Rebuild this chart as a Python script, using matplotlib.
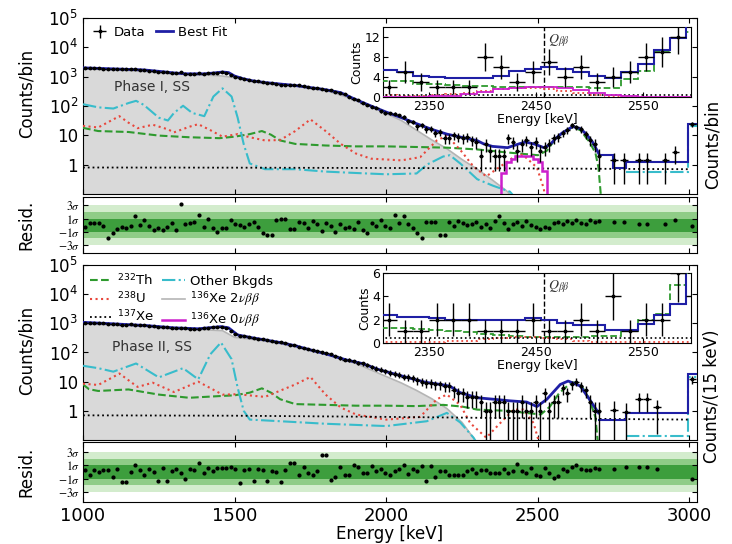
import numpy as np
import matplotlib
matplotlib.use("Agg")
import matplotlib.pyplot as plt

plt.rcParams['font.family'] = ['DejaVu Sans']
plt.rcParams['mathtext.fontset'] = 'stix'
plt.rcParams['xtick.direction'] = 'in'
plt.rcParams['ytick.direction'] = 'in'

# 15 keV bins starting at 1000 keV
bin_centers = 1007.5 + 15 * np.arange(114)
inset_edges = 2305 + 15 * np.arange(21)

C_FIT = '#1f1fa5'
C_TH = '#2e9a2e'
C_U = '#e8473c'
C_OTH = '#38bccb'
C_2NU = '#b5b5b5'
C_FILL = '#d9d9d9'
C_0NU = '#cc1fcc'
BAND_3, BAND_2, BAND_1 = '#d3eccd', '#8fcc87', '#3d9e3d'

# ---------------- Phase I ----------------
p1_data = [2000, 1980, 1960, 1950, 1880, 1800, 1820, 1820, 1800, 1760,
           1760, 1800, 1720, 1720, 1620, 1550, 1500, 1430, 1390, 1370,
           1310, 1400, 1260, 1260, 1270, 1310, 1240, 1320, 1340, 1380,
           1430, 1330, 1170, 990, 900, 830, 750, 720, 700, 640,
           630, 600, 580, 540, 520, 520, 520, 500, 480, 430,
           410, 410, 390, 350, 340, 305, 270, 255, 210, 170,
           155, 128, 108, 95, 88, 66, 58, 57, 55, 48,
           43, 30, 29, 20, 22, 16, 17, 12, 13, 8,
           8, 10, 9, 8, 9, 7, 6, 2, 5, 3,
           2, 2, 2, 8, 6, 3, 5, 7, 4, 6,
           3, 4, 5, 8, 9, 12, 15, 22, 19, 16,
           11, 7, 5, 2]
p1_hi_E = [2750, 2783, 2833, 2860, 2921, 2954, 3010]
p1_hi = [1.4, 1.4, 1.4, 1.4, 1.4, 2.7, 24]

p1_fit_E = [1000, 1100, 1200, 1250, 1300, 1340, 1400, 1430, 1460, 1480, 1500, 1530,
            1560, 1600, 1700, 1800, 1850, 1900, 1950, 2000, 2050, 2100, 2150, 2200,
            2250, 2300, 2320, 2350, 2400, 2440, 2460, 2490, 2520, 2540, 2560, 2580,
            2600, 2615, 2640, 2660, 2680, 2700]
p1_fit = [2000, 1840, 1700, 1520, 1340, 1250, 1250, 1330, 1440, 1380, 1050, 840,
          720, 630, 500, 360, 285, 165, 100, 62, 40, 25, 16, 11,
          8.5, 6.6, 5.2, 4.2, 3.8, 5.2, 5.9, 5.0, 3.8, 4.8, 8, 12,
          16, 20, 17, 11, 6, 2.5]
p1_fit_hi_edges = [2700, 2748, 2790, 2995, 3025]
p1_fit_hi = [2.2, 0.75, 1.2, 25]

p1_2nu_E = [1000, 1100, 1200, 1300, 1400, 1460, 1500, 1550, 1600, 1700, 1800, 1900,
            1950, 2000, 2050, 2100, 2150, 2200, 2250, 2300, 2350, 2400, 2430]
p1_2nu = [1850, 1700, 1500, 1250, 1150, 1050, 920, 730, 620, 480, 340, 160,
          95, 55, 32, 15, 7, 3.5, 1.5, 0.7, 0.3, 0.12, 0.05]

p1_th_E = [1000, 1050, 1150, 1250, 1350, 1450, 1500, 1550, 1590, 1620, 1650, 1700,
           1800, 1900, 2000, 2100, 2200, 2300, 2400, 2500, 2530, 2560, 2590, 2615,
           2640, 2670, 2690, 2700, 2710]
p1_th = [18, 14, 13, 9.8, 8.6, 8, 9, 11, 14, 10.5, 6.7, 5.1,
         4.5, 4.2, 4.2, 4.0, 3.8, 3.3, 2.6, 2.1, 3, 8, 14, 19,
         15, 6, 2.5, 0.8, 0.05]

p1_u_E = [1000, 1050, 1100, 1120, 1150, 1180, 1230, 1280, 1300, 1350, 1380, 1420,
          1460, 1510, 1550, 1600, 1650, 1700, 1750, 1800, 1850, 1900, 1950, 2000,
          2050, 2112, 2167, 2200, 2244, 2288, 2330, 2376, 2420, 2450, 2497, 2520, 2530]
p1_u = [21, 18.5, 35, 45, 27, 17.5, 23, 16, 12.6, 19.5, 24, 15,
        9, 11, 8.6, 6.7, 6.9, 14, 35, 14, 5.1, 2.4, 1.6, 1.5,
        1.4, 1.8, 6.7, 9.8, 3.2, 0.86, 0.4, 0.86, 1.8, 2.2, 0.8, 0.15, 0.01]

p1_oth_E = [1000, 1050, 1100, 1150, 1175, 1200, 1250, 1280, 1300, 1330, 1360, 1400,
            1430, 1460, 1490, 1510, 1530, 1550, 1600, 1700, 1800, 1900, 2000, 2100,
            2134, 2188, 2210, 2244, 2300, 2353, 2408, 2440]
p1_oth = [115, 90, 82, 126, 150, 110, 40, 32, 58, 102, 58, 45,
          210, 400, 210, 40, 5, 1.1, 0.7, 0.7, 0.58, 0.52, 0.47, 0.5,
          1.0, 1.9, 2.1, 1.1, 0.32, 0.19, 0.12, 0.05]
p1_oth_hi_edges = [2790, 2995, 3025]
p1_oth_hi = [0.55, 20]

p1_xe_E = [1000, 1500, 2000, 2500, 3000]
p1_xe = [0.8, 0.79, 0.77, 0.74, 0.7]

p1_0nu_edges = [2365, 2380, 2395, 2410, 2425, 2440, 2455, 2470, 2485, 2500, 2515, 2530, 2545]
p1_0nu = [0.05, 0.5, 1.2, 1.6, 1.9, 2.0, 2.0, 1.9, 1.6, 1.2, 0.6, 0.05]

p1_resid = [-0.3, 0.3, 0.3, 0.3, -0.1, -2.0, -1.3, -0.6, -0.3, -0.5,
            -0.1, 1.4, 0.0, 0.8, -0.2, -0.7, -0.4, -0.7, -0.3, 0.3,
            -0.8, 3.3, 0.2, 0.3, 0.5, 1.6, -0.3, 1.0, -0.4, -1.1,
            -0.4, -0.5, 0.7, 0.1, 0.0, -0.3, 0.2, 0.4, -0.3, -1.3,
            -1.6, -1.5, 0.8, 1.0, 0.9, -0.6, -0.6, 0.5, 0.3, -0.5,
            0.6, 0.1, -0.9, 0.3, -0.2, -1.0, 0.2, -0.5, -0.3, -0.6,
            0.4, -0.8, -1.2, 0.3, -0.2, 0.7, -0.1, -0.4, 1.6, 0.3,
            1.4, 0.2, -0.5, -1.3, -2.0, 0.5, 0.5, 0.4, -1.5, -1.6,
            0.5, -0.2, 0.6, 0.3, 0.0, 0.2, 0.4, -0.3, 0.2, -0.5,
            0.6, 1.4, 0.3, -0.6, 0.2, 0.4, -0.2, 0.6, 0.0, -0.3,
            -0.6, -0.3, -0.5, 0.3, 0.5, 0.1, 0.6, 0.3, 0.8, 0.3,
            0.1, 0.7, 0.5, 0.6]
p1_resid_hi = [0.5, 0.5, 0.2, 0.2, 0.2, 0.7, -0.1]

p1_ins_fit = [5.4, 4.9, 4.2, 4.0, 3.75, 3.75, 3.75, 4.2, 5.2, 5.6,
              5.9, 5.6, 4.9, 4.2, 3.75, 4.9, 6.6, 9.3, 11.7, 14.5]
p1_ins_th = [3.2, 3.2, 2.65, 2.65, 2.4, 2.2, 2.1, 2.0, 2.0, 2.0,
             2.0, 1.9, 1.9, 1.8, 1.8, 3.5, 5.2, 9.0, 11.7, 13.0]
p1_ins_u = [0.3, 0.2, 0.2, 0.3, 0.5, 0.8, 1.2, 1.5, 1.7, 1.8,
            1.6, 1.2, 0.7, 0.3, 0.1, 0.05, 0.05, 0.05, 0.05, 0.05]
p1_ins_0nu = [0.05, 0.05, 0.05, 0.1, 0.2, 0.5, 1.0, 1.5, 1.8, 2.0,
              2.0, 1.8, 1.3, 0.8, 0.4, 0.1, 0.05, 0.05, 0.05, 0.05]
p1_ins_xe = [0.4, 0.4]
p1_ins_counts = [2, 5, 3, 2, 2, 2, 8, 6, 3, 5, 7, 4, 6, 3, 4, 5, 8, 9, 12, 15]

# ---------------- Phase II ----------------
p2_data = [1050, 1000, 1020, 990, 1000, 960, 970, 950, 900, 905,
           920, 900, 880, 860, 830, 800, 770, 760, 720, 710,
           700, 690, 670, 660, 650, 660, 680, 700, 740, 760,
           760, 700, 560, 420, 370, 360, 335, 320, 300, 280,
           265, 250, 235, 220, 205, 185, 175, 160, 145, 130,
           118, 110, 100, 95, 90, 75, 65, 57, 55, 50,
           45, 42, 37, 32, 28, 26, 23, 20, 19, 17,
           15, 14, 13, 11, 10, 9, 9, 8, 8, 7,
           7, 5, 4, 4, 3, 3, 3, 2, 1, 1,
           2, 2, 2, 1, 1, 1, 2, 1, 1, 2,
           1, 4, 1, 2, 2, 6, 4, 8, 10, 7,
           5, 2, 1, 1]
p2_hi_E = [2750, 2790, 2833, 2860, 2893, 3010]
p2_hi = [1.1, 0.9, 2.5, 2.5, 1.3, 12]

p2_fit_E = [1000, 1100, 1150, 1200, 1300, 1380, 1455, 1480, 1510, 1550, 1650, 1700,
            1760, 1800, 1870, 1920, 1980, 2030, 2080, 2130, 2180, 2210, 2244, 2300,
            2353, 2408, 2463, 2497, 2530, 2574, 2600, 2640, 2670, 2700]
p2_fit = [1080, 960, 900, 850, 700, 650, 770, 700, 400, 330, 220, 170,
          115, 90, 55, 42, 25, 18, 13, 9.5, 8, 7, 4.2, 2.8,
          2.5, 2.2, 2.0, 1.4, 2.5, 8, 10.5, 7.1, 2.5, 0.85]
p2_fit_hi_edges = [2700, 2790, 2995, 3025]
p2_fit_hi = [0.5, 0.85, 18]

p2_2nu_E = [1000, 1100, 1200, 1300, 1400, 1460, 1500, 1600, 1700, 1800, 1900, 2000,
            2050, 2100, 2150, 2200, 2250, 2280, 2300]
p2_2nu = [950, 880, 780, 640, 600, 560, 330, 250, 160, 88, 42, 15,
          9, 5, 2.6, 1.2, 0.4, 0.15, 0.08]

p2_th_E = [1000, 1020, 1050, 1150, 1250, 1350, 1450, 1500, 1550, 1590, 1620, 1650,
           1700, 1800, 1900, 2000, 2100, 2188, 2250, 2300, 2400, 2460, 2510, 2540,
           2570, 2600, 2620, 2645, 2670, 2690, 2700]
p2_th = [8, 5.5, 4.8, 5.4, 3.6, 2.8, 3.2, 3.4, 4.2, 5.9, 4.2, 2.5,
         1.7, 1.6, 1.5, 1.5, 1.45, 1.6, 1.4, 1.1, 1.0, 0.85, 0.75, 1.4,
         4, 7.5, 9.5, 7, 2.5, 0.6, 0.05]

p2_u_E = [1000, 1050, 1100, 1120, 1180, 1230, 1300, 1380, 1460, 1510, 1600, 1700,
          1750, 1800, 1850, 1900, 2000, 2112, 2167, 2200, 2244, 2277, 2330, 2376,
          2420, 2453, 2486, 2510]
p2_u = [8.5, 7.7, 14.5, 19, 6.6, 9.2, 4.4, 10, 3.6, 3.7, 3.0, 8,
        14.5, 3.6, 1.3, 0.75, 0.5, 0.62, 2.5, 3.6, 1.6, 0.38, 0.12, 0.38,
        1.1, 1.1, 0.38, 0.05]

p2_oth_E = [1000, 1050, 1100, 1175, 1250, 1330, 1380, 1420, 1455, 1490, 1510, 1530,
            1550, 1650, 1800, 2000, 2134, 2200, 2244, 2288, 2310]
p2_oth = [35, 29, 22, 42, 14, 29, 12, 87, 220, 59, 6.2, 1.0,
          0.5, 0.44, 0.36, 0.3, 0.44, 0.85, 0.4, 0.12, 0.05]
p2_oth_hi_edges = [2790, 2995, 3025]
p2_oth_hi = [0.14, 15]

p2_xe_E = [1000, 1500, 2000, 2500, 3000]
p2_xe = [0.7, 0.68, 0.62, 0.55, 0.5]

p2_resid = [0.3, -0.4, 0.3, 0.0, 0.3, 0.3, -0.8, 0.4, -1.5, -1.5,
            0.0, 1.0, 0.3, -0.4, 0.5, 0.0, -1.4, 0.6, -1.4, 0.1,
            0.5, -0.2, -1.1, 0.4, 0.3, 1.4, -0.2, 0.6, 0.2, 0.6,
            0.6, 0.6, 0.7, 0.4, -1.6, 0.3, 0.4, -1.3, 0.5, 0.3,
            -1.4, 0.1, 0.0, -1.5, 0.3, 1.3, 1.3, -0.5, 0.7, -0.2,
            -0.5, 0.1, 2.6, 2.6, -1.2, -0.8, 0.8, -0.4, -0.5, 1.0,
            0.7, -0.2, -0.2, 0.9, 0.1, 0.5, -0.1, -0.5, 0.2, 0.5,
            1.1, -0.3, 0.4, 0.1, 0.9, -1.3, 0.9, -0.7, 0.1, 0.2,
            -0.4, -0.4, -0.4, -0.5, 0.1, 0.4, -0.2, 0.3, 0.3, -0.2,
            -0.1, -0.2, 0.5, -0.1, 0.2, 1.2, 0.1, -0.2, 0.6, -0.4,
            -0.6, 0.6, -0.2, -0.9, -0.6, 0.5, 0.2, 0.7, 1.0, 0.4,
            0.3, 0.3, 0.6, 0.5]
p2_resid_hi = [0.4, 0.8, 0.7, 0.7, 0.4, -1.1]

p2_ins_fit = [2.4, 2.2, 2.2, 2.1, 2.0, 2.0, 2.0, 2.0, 2.0, 2.1,
              2.0, 1.7, 1.5, 1.5, 1.1, 1.1, 1.6, 2.4, 3.3, 6.5]
p2_ins_th = [1.3, 1.3, 1.2, 1.1, 1.0, 0.9, 0.8, 0.7, 0.6, 0.5,
             0.5, 0.5, 0.5, 0.6, 0.6, 1.0, 2.0, 2.5, 5.0, 6.0]
p2_ins_u = [0.1, 0.1, 0.1, 0.1, 0.15, 0.2, 0.3, 0.4, 0.5, 0.5,
            0.4, 0.3, 0.2, 0.1, 0.05, 0.05, 0.05, 0.05, 0.05, 0.05]
p2_ins_xe = [0.45, 0.45]
p2_ins_counts = [2, 1, 1, 2, 2, 2, 1, 1, 1, 2, 1, 1, 2, 1, 4, 1, 2, 2, 6, 4]


def main_panel(ax, e2nu, v2nu, eth, vth, eu, vu, eoth, voth, oth_edges, oth_hi,
               exe, vxe, efit, vfit, fit_edges, fit_hi, data, hiE, hiv,
               e0nu=None, v0nu=None):
    ax.fill_between(e2nu, 1e-3, v2nu, color=C_FILL, lw=0, zorder=1)
    l2nu, = ax.plot(e2nu, v2nu, color=C_2NU, lw=1.2, zorder=2)
    lth, = ax.plot(eth, vth, '--', color=C_TH, lw=1.5, zorder=3)
    lu, = ax.plot(eu, vu, ':', color=C_U, lw=1.5, zorder=3)
    loth, = ax.plot(eoth, voth, '-.', color=C_OTH, lw=1.5, zorder=3)
    ax.stairs(oth_hi, oth_edges, baseline=None, color=C_OTH, ls='-.', lw=1.5, zorder=3)
    lxe, = ax.plot(exe, vxe, ':', color='k', lw=1.3, zorder=3)
    if e0nu is not None:
        ax.stairs(v0nu, e0nu, baseline=None, color=C_0NU, lw=1.8, zorder=4)
    lfit, = ax.plot(efit, vfit, color=C_FIT, lw=2, zorder=5)
    ax.stairs(fit_hi, fit_edges, baseline=None, color=C_FIT, lw=1.5, zorder=5)
    d = np.array(data, dtype=float)
    ed = ax.errorbar(bin_centers, d, yerr=np.sqrt(d), xerr=7.5, fmt='.', color='k',
                     ms=3.5, elinewidth=1, capsize=0, zorder=6)
    h = np.array(hiv, dtype=float)
    ax.errorbar(hiE, h, yerr=np.sqrt(h), xerr=13, fmt='.', color='k',
                ms=3.5, elinewidth=1, capsize=0, zorder=6)
    ax.set_yscale('log', nonpositive='clip')
    ax.set_xlim(1000, 3025)
    ax.set_ylim(0.1, 1e5)
    ax.set_yticks([1, 10, 100, 1e3, 1e4, 1e5])
    ax.set_yticklabels(['1', '10', r'$\mathdefault{10^{2}}$', r'$\mathdefault{10^{3}}$',
                        r'$\mathdefault{10^{4}}$', r'$\mathdefault{10^{5}}$'])
    ax.set_xticks([1000, 1500, 2000, 2500, 3000])
    ax.tick_params(axis='both', which='both', top=True, right=True, labelsize=12)
    ax.tick_params(axis='x', labelbottom=False)
    ax.set_ylabel('Counts/bin', fontsize=12)
    return ed, lfit, lth, lu, lxe, loth, l2nu


def resid_panel(ax, r, hiE, rhi, show_x, lim):
    ax.axhspan(-3, 3, color=BAND_3, lw=0)
    ax.axhspan(-2, 2, color=BAND_2, lw=0)
    ax.axhspan(-1, 1, color=BAND_1, lw=0)
    ax.plot(bin_centers, r, '.', color='k', ms=4)
    ax.plot(hiE, rhi, '.', color='k', ms=4)
    ax.set_xlim(1000, 3025)
    ax.set_ylim(-lim, lim)
    ax.set_yticks([3, 1, -1, -3])
    ax.set_yticklabels([r'$3\sigma$', r'$1\sigma$', r'$-1\sigma$', r'$-3\sigma$'])
    ax.set_xticks([1000, 1500, 2000, 2500, 3000])
    ax.tick_params(axis='y', labelsize=8.5, right=True, pad=2)
    ax.tick_params(axis='x', top=True, labelsize=13, labelbottom=show_x)
    ax.set_ylabel('Resid.', fontsize=12)


def inset_panel(ax, counts, fit, th, u, xe, ytop, yticks, zeronu=None):
    ax.stairs(fit, inset_edges, baseline=None, color=C_FIT, lw=1.5, zorder=5)
    ax.stairs(th, inset_edges, baseline=None, color=C_TH, ls='--', lw=1.3, zorder=3)
    ax.stairs(u, inset_edges, baseline=None, color=C_U, ls=':', lw=1.3, zorder=3)
    if zeronu is not None:
        ax.stairs(zeronu, inset_edges, baseline=None, color=C_0NU, lw=1.3, zorder=4)
    ax.plot([inset_edges[0], inset_edges[-1]], xe, color='k', ls=':', lw=1.2, zorder=3)
    c = np.array(counts, dtype=float)
    ax.errorbar(inset_edges[:-1] + 7.5, c, yerr=np.sqrt(c), xerr=7.5, fmt='.',
                color='k', ms=3.5, elinewidth=1, capsize=0, zorder=6)
    ax.axvline(2458, color='k', ls='--', lw=1)
    ax.text(2461, ytop * 0.93, r'$Q_{\beta\beta}$', fontsize=10, va='top', color='#333333')
    ax.set_xlim(2307, 2595)
    ax.set_ylim(0, ytop)
    ax.set_xticks([2350, 2450, 2550])
    ax.set_yticks(yticks)
    ax.tick_params(labelsize=9, pad=2)
    ax.set_xlabel('Energy [keV]', fontsize=9, labelpad=0)
    ax.set_ylabel('Counts', fontsize=9, labelpad=1)


fig = plt.figure(figsize=(7.32, 5.44), dpi=100)

ax1 = fig.add_axes([0.1134, 0.6434, 0.8388, 0.3235])
r1 = fig.add_axes([0.1134, 0.5349, 0.8388, 0.1029])
ax2 = fig.add_axes([0.1134, 0.1912, 0.8388, 0.3217])
r2 = fig.add_axes([0.1134, 0.0772, 0.8388, 0.1103])

h1 = main_panel(ax1, p1_2nu_E, p1_2nu, p1_th_E, p1_th, p1_u_E, p1_u, p1_oth_E, p1_oth,
                p1_oth_hi_edges, p1_oth_hi, p1_xe_E, p1_xe, p1_fit_E, p1_fit,
                p1_fit_hi_edges, p1_fit_hi, p1_data, p1_hi_E, p1_hi,
                p1_0nu_edges, p1_0nu)
h2 = main_panel(ax2, p2_2nu_E, p2_2nu, p2_th_E, p2_th, p2_u_E, p2_u, p2_oth_E, p2_oth,
                p2_oth_hi_edges, p2_oth_hi, p2_xe_E, p2_xe, p2_fit_E, p2_fit,
                p2_fit_hi_edges, p2_fit_hi, p2_data, p2_hi_E, p2_hi)

leg1 = ax1.legend([h1[0], h1[1]], ['Data', 'Best Fit'], loc='upper left', ncol=2,
                  frameon=False, fontsize=9.5, handlelength=1.3, handletextpad=0.4,
                  columnspacing=0.8, borderaxespad=0.2)
leg1.set_zorder(10)
l0nu = plt.Line2D([], [], color=C_0NU, lw=1.8)
leg2 = ax2.legend([h2[2], h2[3], h2[4], h2[5], h2[6], l0nu],
                  [r'$^{\mathdefault{232}}$Th', r'$^{\mathdefault{238}}$U',
                   r'$^{\mathdefault{137}}$Xe', 'Other Bkgds',
                   r'$^{\mathdefault{136}}$Xe 2$\nu\beta\beta$',
                   r'$^{\mathdefault{136}}$Xe 0$\nu\beta\beta$'],
                  loc='upper left', ncol=2, frameon=False, fontsize=9.5,
                  handlelength=1.7, handletextpad=0.4, columnspacing=0.6,
                  labelspacing=0.12, borderaxespad=0.1)
leg2.set_zorder(10)

ax1.text(0.05, 0.61, 'Phase I, SS', transform=ax1.transAxes, fontsize=10,
         color='#333333', va='center')
ax2.text(0.047, 0.53, 'Phase II, SS', transform=ax2.transAxes, fontsize=10,
         color='#333333', va='center')
ax1.yaxis.set_label_coords(-0.077, 0.57)
ax2.yaxis.set_label_coords(-0.077, 0.51)

resid_panel(r1, p1_resid, p1_hi_E, p1_resid_hi, False, 4.3)
resid_panel(r2, p2_resid, p2_hi_E, p2_resid_hi, True, 4.5)
r1.yaxis.set_label_coords(-0.077, 0.5)
r2.yaxis.set_label_coords(-0.077, 0.5)
r2.set_xlabel('Energy [keV]', fontsize=12, labelpad=0)

in1 = fig.add_axes([0.5232, 0.8217, 0.4208, 0.1287])
inset_panel(in1, p1_ins_counts, p1_ins_fit, p1_ins_th, p1_ins_u, p1_ins_xe,
            14, [0, 4, 8, 12], p1_ins_0nu)
in2 = fig.add_axes([0.5232, 0.3695, 0.4208, 0.1287])
inset_panel(in2, p2_ins_counts, p2_ins_fit, p2_ins_th, p2_ins_u, p2_ins_xe,
            6, [0, 2, 4, 6])

fig.text(0.973, 0.735, 'Counts/bin', rotation=90, va='center', ha='center', fontsize=12)
fig.text(0.973, 0.272, 'Counts/(15 keV)', rotation=90, va='center', ha='center', fontsize=12)

fig.savefig('out.png', dpi=100)
